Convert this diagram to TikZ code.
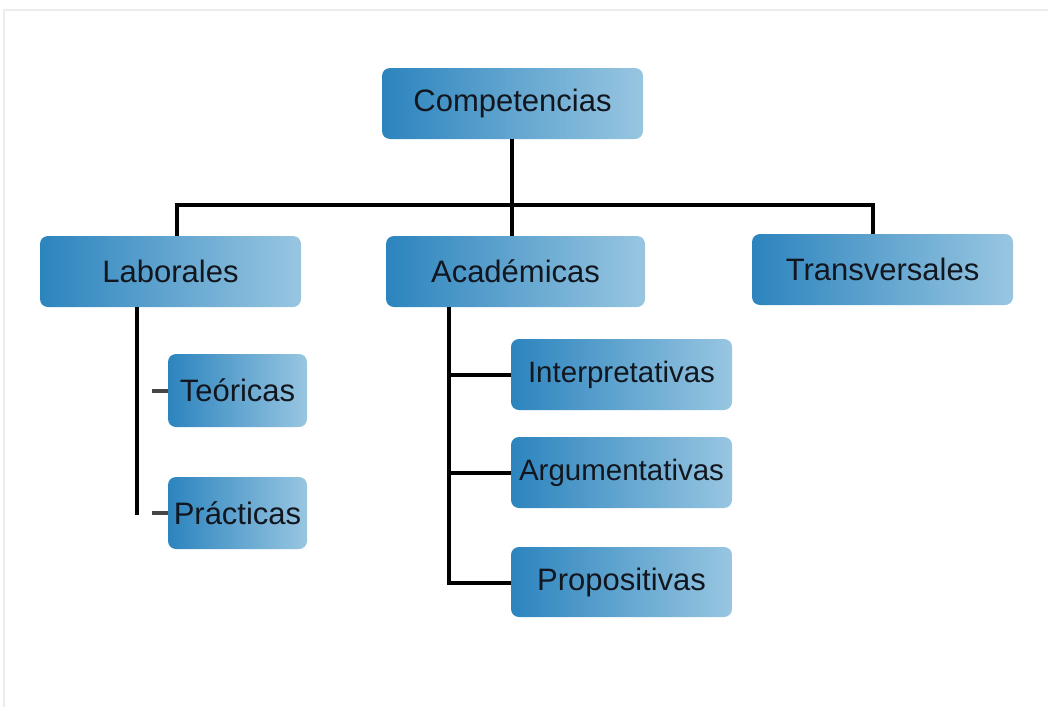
\documentclass[tikz,border=0pt]{standalone}
\usepackage{fontspec}
\setmainfont{Liberation Sans}
\definecolor{boxL}{RGB}{44,132,190}
\definecolor{boxR}{RGB}{152,198,225}
\definecolor{txt}{RGB}{18,22,30}
\definecolor{stubc}{RGB}{70,70,70}
\definecolor{framec}{RGB}{236,236,236}
\tikzset{
  x=1pt, y=-1pt,
  box/.style={rounded corners=8pt, left color=boxL, right color=boxR, draw=none,
    inner sep=0pt, text=txt, font=\fontsize{31}{35}\selectfont},
  smalltext/.style={font=\fontsize{29.5}{33}\selectfont},
  conn/.style={line width=4pt, black},
  stubline/.style={line width=4pt, stubc},
}
\begin{document}
\begin{tikzpicture}
\useasboundingbox (0,0) rectangle (1048,707);
\draw[framec, line width=1.5pt] (4,707) -- (4,10) -- (1048,10);

\node[box, minimum width=261pt, minimum height=71pt] (comp) at (512.5,103.5) {Competencias};
\node[box, minimum width=261pt, minimum height=71pt] (lab) at (170.5,271.5) {Laborales};
\node[box, minimum width=259pt, minimum height=71pt] (acad) at (515.5,271.5) {Académicas};
\node[box, minimum width=261pt, minimum height=71pt] (trans) at (882.5,269.5) {Transversales};
\node[box, minimum width=139pt, minimum height=73pt] (teo) at (237.5,390.5) {Teóricas};
\node[box, minimum width=139pt, minimum height=72pt] (pra) at (237.5,513) {Prácticas};
\node[box, smalltext, minimum width=221pt, minimum height=71pt] (inter) at (621.5,374.5) {Interpretativas};
\node[box, smalltext, minimum width=221pt, minimum height=71pt] (arg) at (621.5,472.5) {Argumentativas};
\node[box, minimum width=221pt, minimum height=70pt] (prop) at (621.5,582) {Propositivas};

\coordinate (busL) at (177,205);
\coordinate (busR) at (873,205);
\coordinate (busM) at (512,205);
\draw[conn] (comp.south -| busM) -- (busM);
\draw[conn] ([xshift=-2pt]busL) -- ([xshift=2pt]busR);
\draw[conn] (busL) -- (busL |- lab.north);
\draw[conn] (busM) -- (busM |- acad.north);
\draw[conn] (busR) -- (busR |- trans.north);

\coordinate (lv) at (137,515);
\draw[conn] (lv |- lab.south) -- (lv);
\draw[stubline] (teo.west) -- ++(-16,0);
\draw[stubline] (pra.west) -- ++(-16,0);

\coordinate (av) at (449,583);
\draw[conn] (av |- acad.south) -- (av) -- (av -| prop.west);
\draw[conn] (av |- inter.west) -- (inter.west);
\draw[conn] (av |- arg.west) -- (arg.west);
\end{tikzpicture}
\end{document}
